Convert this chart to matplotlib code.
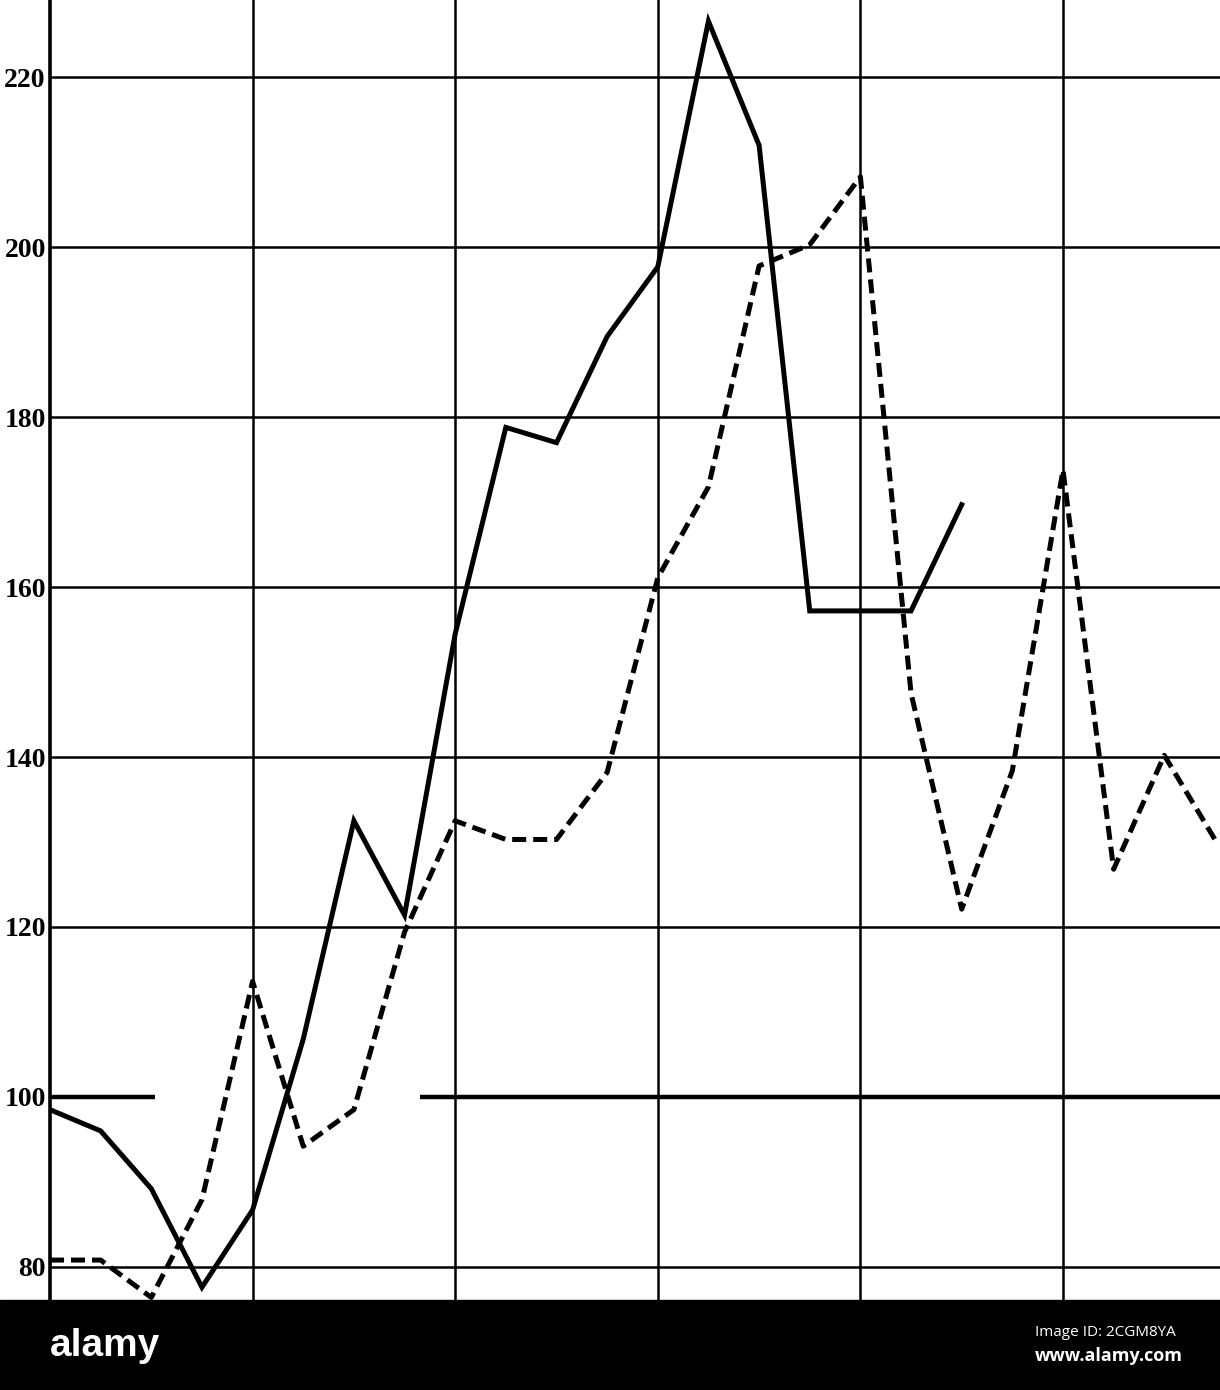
import matplotlib.pyplot as plt
import matplotlib.patches as mpatches

# index readings (quarter steps between the vertical rulings)
solid_values = [98.5, 96.0, 89.2, 77.6, 86.7, 106.8, 132.5, 121.4, 154.5, 178.8,
                177.0, 189.5, 197.7, 226.6, 212.0, 157.2, 157.2, 157.2, 169.7]
dashed_values = [80.8, 80.8, 76.4, 87.9, 113.6, 94.2, 98.5, 119.4, 132.5, 130.3,
                 130.3, 138.2, 161.1, 171.8, 197.8, 200.3, 208.3, 147.5, 122.1,
                 138.4, 173.8, 126.8, 140.2, 130.3]
y_ticks = [80, 100, 120, 140, 160, 180, 200, 220]
x_grid = [0, 4, 8, 12, 16, 20]

W, H = 1220, 1390
fig = plt.figure(figsize=(W / 100, H / 100), dpi=100)
band = 90 / H
ax = fig.add_axes([50 / W, band, 1 - 50 / W, 1 - band])

ax.set_xlim(0, 23.1)
ax.set_ylim(76.1, 229.1)

# rulings
for x in x_grid[1:]:
    ax.axvline(x, color='black', lw=1.8, zorder=1)
for y in y_ticks:
    if y != 100:
        ax.axhline(y, color='black', lw=1.8, zorder=1)
# heavy base line at 100, broken on the left
ax.hlines(100, 0, 2.07, color='black', lw=3.2, zorder=1)
ax.hlines(100, 7.3, 23.1, color='black', lw=3.2, zorder=1)

ax.plot(range(len(solid_values)), solid_values, color='black', lw=3.6,
        solid_joinstyle='miter', zorder=3)
ax.plot(range(len(dashed_values)), dashed_values, color='black', lw=3.6,
        linestyle=(0, (2.8, 1.4)), zorder=3)

for s in ['top', 'right', 'bottom']:
    ax.spines[s].set_visible(False)
ax.spines['left'].set_linewidth(2.6)
ax.set_xticks([])
ax.set_yticks(y_ticks)
ax.set_yticklabels([str(t) for t in y_ticks], fontsize=20, fontweight='bold',
                   family='Liberation Serif')
ax.tick_params(axis='y', length=0, pad=3)

# stock-photo footer band
fig.patches.append(mpatches.Rectangle((0, 0), 1, band, transform=fig.transFigure,
                                      color='black', zorder=0))
fig.text(50 / W, 1 - 1346 / H, 'alamy', color='white', fontsize=28,
         fontweight='bold', va='center', ha='left', family='Liberation Sans',
         fontstretch='condensed')
fig.text(1035 / W, 1 - 1332 / H, 'Image ID: 2CGM8YA', color='white', fontsize=11,
         va='center', ha='left', family='Open Sans')
fig.text(1035 / W, 1 - 1356 / H, 'www.alamy.com', color='white', fontsize=13,
         fontweight='bold', va='center', ha='left', family='Open Sans')

fig.savefig('out.png', dpi=100)
